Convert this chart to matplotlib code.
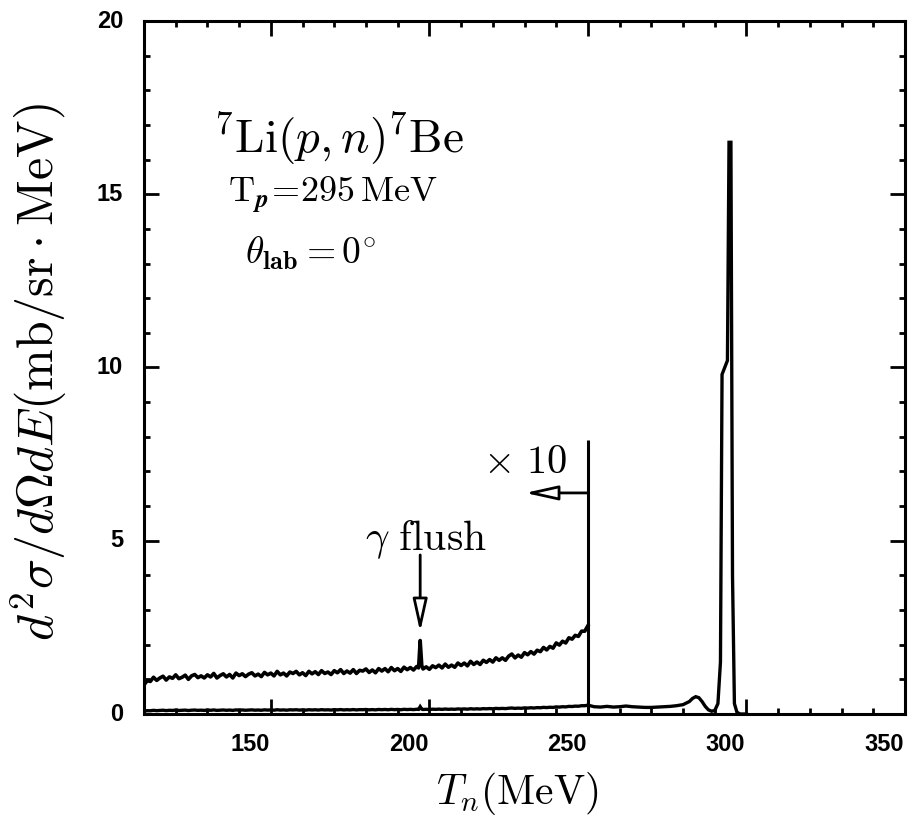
import numpy as np
import matplotlib
matplotlib.use("Agg")
import matplotlib.pyplot as plt
from matplotlib.ticker import MultipleLocator
from matplotlib.transforms import ScaledTranslation, blended_transform_factory

plt.rcParams["mathtext.fontset"] = "cm"

# Neutron energy (MeV) and cross section (mb/sr/MeV), continuum region
e_low = [110, 111, 112, 113, 114, 115, 116, 117, 118, 119, 120, 121, 122, 123,
         124, 125, 126, 127, 128, 129, 130, 131, 132, 133, 134, 135, 136, 137,
         138, 139, 140, 141, 142, 143, 144, 145, 146, 147, 148, 149, 150, 151,
         152, 153, 154, 155, 156, 157, 158, 159, 160, 161, 162, 163, 164, 165,
         166, 167, 168, 169, 170, 171, 172, 173, 174, 175, 176, 177, 178, 179,
         180, 181, 182, 183, 184, 185, 186, 187, 188, 189, 190, 191, 192, 193,
         194, 195, 196, 196.6, 197.1, 197.6, 198, 199, 200, 201, 202, 203, 204,
         205, 206, 207, 208, 209, 210, 211, 212, 213, 214, 215, 216, 217, 218,
         219, 220, 221, 222, 223, 224, 225, 226, 227, 228, 229, 230, 231, 232,
         233, 234, 235, 236, 237, 238, 239, 240, 241, 242, 243, 244, 245, 246,
         247, 248, 249, 250]
xs_low = [0.084, 0.096, 0.094, 0.106, 0.097, 0.104, 0.109, 0.098, 0.107, 0.103,
          0.113, 0.102, 0.106, 0.112, 0.100, 0.110, 0.114, 0.105, 0.110, 0.104,
          0.113, 0.107, 0.117, 0.104, 0.111, 0.116, 0.107, 0.114, 0.104, 0.118,
          0.111, 0.116, 0.108, 0.115, 0.119, 0.110, 0.115, 0.108, 0.120, 0.113,
          0.118, 0.110, 0.123, 0.113, 0.118, 0.110, 0.121, 0.117, 0.123, 0.113,
          0.119, 0.111, 0.123, 0.116, 0.122, 0.114, 0.125, 0.117, 0.121, 0.114,
          0.125, 0.119, 0.128, 0.117, 0.124, 0.118, 0.128, 0.117, 0.126, 0.124,
          0.130, 0.120, 0.127, 0.119, 0.131, 0.124, 0.131, 0.122, 0.134, 0.125,
          0.131, 0.123, 0.135, 0.128, 0.134, 0.127, 0.137, 0.133, 0.212, 0.140,
          0.130, 0.136, 0.129, 0.139, 0.134, 0.141, 0.133, 0.144, 0.135, 0.141,
          0.135, 0.147, 0.140, 0.147, 0.139, 0.152, 0.143, 0.150, 0.143, 0.155,
          0.149, 0.157, 0.150, 0.162, 0.155, 0.162, 0.155, 0.167, 0.173, 0.162,
          0.170, 0.164, 0.177, 0.171, 0.180, 0.173, 0.184, 0.180, 0.192, 0.185,
          0.195, 0.190, 0.205, 0.199, 0.210, 0.205, 0.220, 0.216, 0.227, 0.224,
          0.239, 0.239, 0.255]

# Region above the x10 boundary, including the ground-state peak
e_high = [252, 254, 256, 258, 260, 262, 264, 266, 268, 270, 272, 274, 276, 278,
          280, 282, 283, 284, 285, 286, 287, 288, 289, 290, 291, 291.8, 292.3,
          294.0, 294.5, 295.1, 295.6, 296.2, 297, 298, 300]
xs_high = [0.21, 0.20, 0.22, 0.20, 0.21, 0.23, 0.21, 0.20, 0.19, 0.19, 0.20,
           0.21, 0.22, 0.24, 0.27, 0.36, 0.45, 0.50, 0.47, 0.36, 0.22, 0.12,
           0.08, 0.10, 0.30, 1.5, 9.8, 10.2, 16.5, 16.5, 4.0, 0.3, 0.05, 0.0, 0.0]

scale_factor = 10
boundary = 250
boundary_top = 7.9
flush_energy = 197.1

x_ticks = [150, 200, 250, 300, 350]
y_ticks = [0, 5, 10, 15, 20]

fig = plt.figure(figsize=(9.13, 8.22), dpi=100)
ax = fig.add_axes([144 / 913, 1 - 714 / 822, 761 / 913, 693 / 822])

e_all = np.array(e_low + e_high)
xs_all = np.array(xs_low + xs_high)
ax.plot(e_all, xs_all, color="black", lw=2.4, solid_joinstyle="miter")
ax.plot(e_low, np.array(xs_low) * scale_factor, color="black", lw=2.6)
ax.vlines(boundary, 0, boundary_top, color="black", lw=2.2)

ax.set_xlim(110, 350)
ax.set_ylim(0, 20)
ax.xaxis.set_major_locator(MultipleLocator(50))
ax.xaxis.set_minor_locator(MultipleLocator(10))
ax.yaxis.set_major_locator(MultipleLocator(5))
ax.yaxis.set_minor_locator(MultipleLocator(1))
ax.tick_params(which="both", direction="in", top=True, right=True, width=2)
ax.tick_params(which="major", length=11)
ax.tick_params(which="minor", length=4.5)
for sp in ax.spines.values():
    sp.set_linewidth(2.2)

# Tick labels drawn as text so their placement can be set freely
ax.set_xticklabels([])
ax.set_yticklabels([])
tick_font = dict(family="Liberation Sans", weight="bold", fontsize=17)
xt = blended_transform_factory(ax.transData, ax.transAxes) + \
    ScaledTranslation(-0.21, -0.19, fig.dpi_scale_trans)
for v in x_ticks:
    ax.text(v, 0, str(v), transform=xt, ha="center", va="top", **tick_font)
yt = blended_transform_factory(ax.transAxes, ax.transData) + \
    ScaledTranslation(-0.21, 0, fig.dpi_scale_trans)
for v in y_ticks:
    ax.text(0, v, str(v), transform=yt, ha="right", va="center", **tick_font)

ax.set_ylabel(r"$d^2\sigma/d\Omega dE(\mathrm{mb/sr\cdot MeV})$", fontsize=36)
ax.yaxis.set_label_coords(-0.139, 0.4935)
ax.yaxis.label.set_va("center")
ax.set_xlabel(r"$T_n(\mathrm{MeV})$", fontsize=30)
ax.xaxis.set_label_coords(0.491, -0.115)
ax.xaxis.label.set_va("center")

ax.text(131.8, 16.2, r"$^7\mathrm{Li}(p,n)^7\mathrm{Be}$", fontsize=34,
        ha="left", va="baseline")
ax.text(136.5, 14.8, r"$\mathrm{T}_{\boldsymbol{p}}\!=\!295\,\mathrm{MeV}$",
        fontsize=26, ha="left", va="baseline")
ax.text(141.9, 13.0, r"$\theta_{\mathbf{lab}}=0^{\circ}$", fontsize=27,
        ha="left", va="baseline")

ax.text(230.2, 7.27, r"$\times\ 10$", fontsize=29, ha="center", va="center")
ax.annotate("", xy=(230.2, 6.38), xytext=(boundary, 6.38),
            arrowprops=dict(arrowstyle="-|>,head_length=0.9,head_width=0.2",
                            fc="white", ec="black", lw=2,
                            mutation_scale=22, shrinkA=0, shrinkB=0))

ax.text(199.0, 4.73, r"$\gamma\ \mathrm{flush}$", fontsize=30, ha="center",
        va="baseline")
ax.annotate("", xy=(flush_energy, 2.37), xytext=(flush_energy, 4.59),
            arrowprops=dict(arrowstyle="-|>,head_length=0.9,head_width=0.2",
                            fc="white", ec="black", lw=2,
                            mutation_scale=22, shrinkA=0, shrinkB=0))

fig.savefig("out.png", dpi=100)
